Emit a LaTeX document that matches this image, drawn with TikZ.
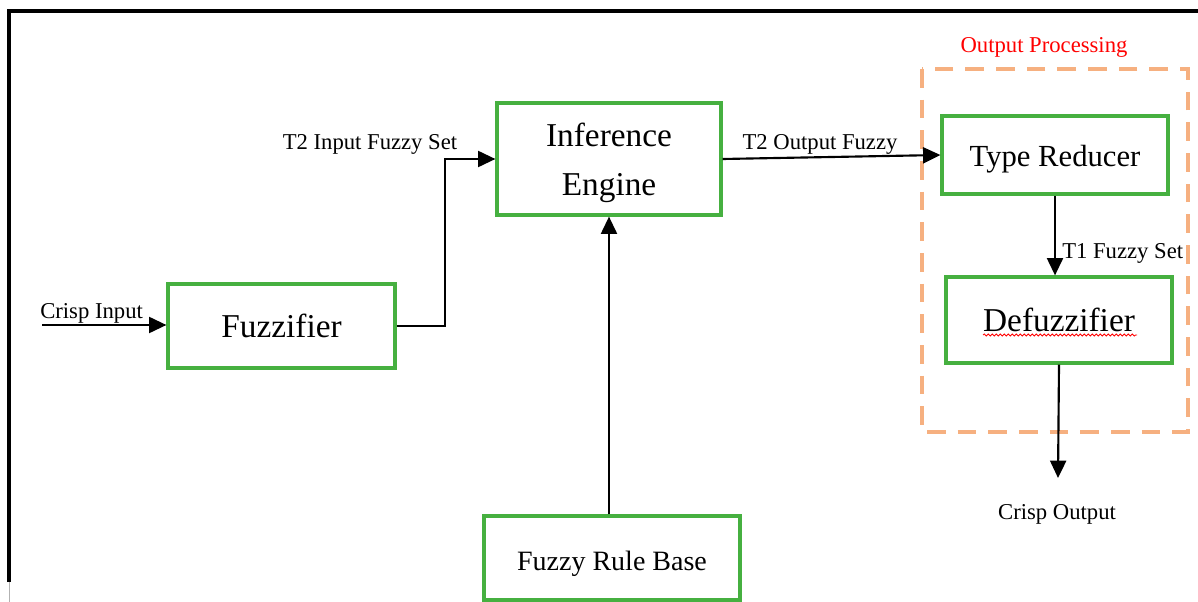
\documentclass[tikz,border=0pt]{standalone}
\usepackage{fontspec}
\setmainfont{Liberation Serif}
\usetikzlibrary{arrows.meta,decorations.pathmorphing}
\definecolor{boxgreen}{RGB}{70,176,64}
\definecolor{dashorange}{RGB}{246,176,128}
\newcommand{\lowered}[2]{\raisebox{-#1}[\height][\depth]{#2}}
\tikzset{
  x=0.75pt, y=-0.75pt,
  block/.style={draw=boxgreen, line width=2.4pt, fill=white, align=center, inner sep=0pt},
  bigtext/.style={font=\fontsize{25}{30}\selectfont},
  lbl/.style={font=\fontsize{17}{20}\selectfont, inner sep=0pt},
  arr/.style={line width=1.6pt, -{Triangle[length=13pt,width=12pt]}},
}
\begin{document}
\begin{tikzpicture}
\useasboundingbox (0,0) rectangle (1198,602);

% outer frame
\draw[line width=2.4pt] (9,582) -- (9,11) -- (1198,11);
\draw[gray!60, line width=0.5pt] (9,582) -- (9,602);

% output processing group
\draw[dashorange, line width=2.6pt, dash pattern=on 14pt off 9pt] (922,69) rectangle (1188,432);
\node[lbl, text=red] (optitle) at (1044,47) {Output Processing};

% blocks
\node[block, bigtext, minimum width={227*0.75pt}, minimum height={84*0.75pt}] (fuzz) at (281.5,326) {Fuzzifier};
\node[block, bigtext, minimum width={224*0.75pt}, minimum height={112*0.75pt}] (infer) at (609,159) {\lowered{3pt}{Inference}\\[7pt]\lowered{3pt}{Engine}};
\node[block, font=\fontsize{21}{25}\selectfont, minimum width={256*0.75pt}, minimum height={84*0.75pt}] (rule) at (612,558) {\lowered{4pt}{Fuzzy Rule Base}};
\node[block, font=\fontsize{23}{27}\selectfont, minimum width={226*0.75pt}, minimum height={78*0.75pt}] (treduce) at (1055,155) {\lowered{3pt}{Type Reducer}};
\node[block, bigtext, minimum width={226*0.75pt}, minimum height={86*0.75pt}] (defuzz) at (1059,320) {Defuzzifier};

% spell-check squiggle under Defuzzifier
\draw[red, line width=0.6pt, decorate, decoration={snake, amplitude=0.8pt, segment length=3pt}] (983,335) -- (1137,335);

% free ends
\coordinate (cin) at (42,325);
\coordinate (cout) at (1058,478);

% connectors
\draw[arr] (cin) -- (cin -| fuzz.west);
\draw[arr] (fuzz.east) -- ++(48,0) |- (infer.west);
\draw[arr] (infer.east) -- (treduce.west);
\draw[arr] (treduce.south) -- (treduce.south |- defuzz.north);
\draw[arr] (defuzz.south) -- (cout);
\draw[arr] (infer.south |- rule.north) -- (infer.south);

% connector labels
\node[lbl, anchor=west] (lcin) at (40,313) {Crisp Input};
\node[lbl] (lt2in) at (370,144) {T2 Input Fuzzy Set};
\node[lbl] (lt2out) at (820,144) {T2 Output Fuzzy};
\node[lbl, anchor=west] (lt1) at (1062,253) {T1 Fuzzy Set};
\node[lbl] (lcout) at (1057,514) {Crisp Output};
\end{tikzpicture}
\end{document}
